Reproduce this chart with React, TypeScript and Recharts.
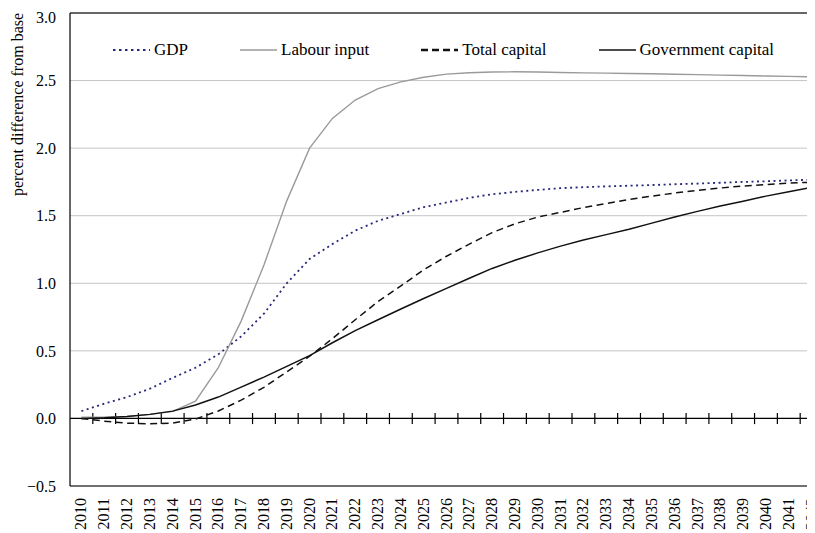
import React from 'react';
import { LineChart, Line, XAxis, YAxis, CartesianGrid, ReferenceLine } from 'recharts';

const years = [
  2010, 2011, 2012, 2013, 2014, 2015, 2016, 2017, 2018, 2019, 2020,
  2021, 2022, 2023, 2024, 2025, 2026, 2027, 2028, 2029, 2030, 2031,
  2032, 2033, 2034, 2035, 2036, 2037, 2038, 2039, 2040, 2041, 2042,
];

const gdp = [
  0.054, 0.109, 0.158, 0.22, 0.3, 0.375, 0.474, 0.607, 0.775, 1.0, 1.18,
  1.29, 1.39, 1.462, 1.513, 1.563, 1.598, 1.632, 1.659, 1.676, 1.691, 1.704,
  1.711, 1.717, 1.722, 1.727, 1.733, 1.738, 1.744, 1.75, 1.755, 1.761, 1.767,
];

const labourInput = [
  0.01, 0.01, 0.015, 0.03, 0.052, 0.128, 0.375, 0.72, 1.135, 1.61, 2.0,
  2.22, 2.356, 2.44, 2.49, 2.525, 2.548, 2.558, 2.563, 2.565, 2.563, 2.56,
  2.557, 2.555, 2.552, 2.55, 2.547, 2.544, 2.54, 2.537, 2.534, 2.531, 2.528,
];

const totalCapital = [
  0.0, -0.02, -0.035, -0.04, -0.035, -0.005, 0.055, 0.135, 0.23, 0.345, 0.46,
  0.59, 0.73, 0.865, 0.98, 1.1, 1.2, 1.29, 1.375, 1.44, 1.49, 1.525,
  1.56, 1.59, 1.62, 1.645, 1.668, 1.688, 1.705, 1.72, 1.731, 1.741, 1.748,
];

const governmentCapital = [
  0.0, 0.005, 0.015, 0.03, 0.054, 0.1, 0.158, 0.232, 0.306, 0.385, 0.465,
  0.56, 0.65, 0.73, 0.81, 0.887, 0.962, 1.037, 1.11, 1.17, 1.225, 1.275,
  1.32, 1.36, 1.4, 1.445, 1.49, 1.532, 1.572, 1.607, 1.645, 1.678, 1.71,
];

const yTicks = [-0.5, 0, 0.5, 1.0, 1.5, 2.0, 2.5, 3.0];
const yLabel = 'percent difference from base';

const seriesNames = ['GDP', 'Labour input', 'Total capital', 'Government capital'];

const FONT = '"Liberation Serif", "Times New Roman", Times, serif';

const series = [
  { key: 'gdp', name: seriesNames[0], color: '#28287a', width: 1.8, dash: '2 3.5', legendWidth: 2.2, legendDash: '2.5 3.5' },
  { key: 'labour', name: seriesNames[1], color: '#9a9a9a', width: 1.4, dash: undefined, legendWidth: 1.4, legendDash: undefined },
  { key: 'total', name: seriesNames[2], color: '#111111', width: 1.5, dash: '7 4.5', legendWidth: 2.4, legendDash: '7 4' },
  { key: 'gov', name: seriesNames[3], color: '#111111', width: 1.5, dash: undefined, legendWidth: 1.6, legendDash: undefined },
];

const data = years.map((year, i) => ({
  year,
  gdp: gdp[i],
  labour: labourInput[i],
  total: totalCapital[i],
  gov: governmentCapital[i],
}));

const boundaries = years.slice(0, -1).map((y) => y + 0.5);

const fmt = (v: number) => (v < 0 ? '\u2212' + Math.abs(v).toFixed(1) : v.toFixed(1));

const XTick = (props: any) => {
  const { x, y, payload } = props;
  return (
    <text
      transform={`translate(${x + 5},${y}) rotate(-90)`}
      textAnchor="end"
      fontSize={16}
      fontFamily={FONT}
      fill="#000"
    >
      {payload.value}
    </text>
  );
};

const YLabel = (props: any) => {
  const vb = props.viewBox || { x: 0, y: 0 };
  return (
    <text
      transform={`translate(${vb.x + 14.5},${vb.y + 91.5}) rotate(-90)`}
      textAnchor="middle"
      fontSize={16}
      fontFamily={FONT}
      fill="#000"
    >
      {yLabel}
    </text>
  );
};

export default function App() {
  return (
    <div style={{ position: 'relative', width: 807, height: 525, overflow: 'hidden', background: '#fff' }}>
      <LineChart
        width={815}
        height={525}
        data={data}
        margin={{ top: 5, right: 0, bottom: 0, left: 0 }}
      >
        <CartesianGrid horizontal vertical={false} stroke="#c4c4c4" strokeWidth={1} />
        <XAxis
          dataKey="year"
          type="number"
          domain={[2009.5, 2042.5]}
          ticks={years}
          interval={0}
          allowDataOverflow
          height={47}
          tickSize={6}
          tickMargin={6}
          tickLine={false}
          axisLine={{ stroke: '#000', strokeWidth: 1.2 }}
          tick={<XTick />}
        />
        <YAxis
          type="number"
          domain={[-0.5, 3]}
          ticks={yTicks}
          width={62}
          tickSize={6}
          tickMargin={8}
          tickLine={false}
          axisLine={{ stroke: '#000', strokeWidth: 1.2 }}
          tickFormatter={fmt}
          tick={{ fill: '#000', fontSize: 16, fontFamily: FONT }}
          label={(p: any) => <YLabel {...p} />}
        />
        <ReferenceLine y={3} stroke="#666" strokeWidth={2} />
        <ReferenceLine y={0} stroke="#000" strokeWidth={1.2} />
        {boundaries.map((b) => (
          <ReferenceLine
            key={b}
            segment={[{ x: b, y: -0.042 }, { x: b, y: 0.04 }]}
            stroke="#000"
            strokeWidth={1.2}
          />
        ))}
        {series.map((s) => (
          <Line
            key={s.key}
            type="linear"
            dataKey={s.key}
            name={s.name}
            stroke={s.color}
            strokeWidth={s.width}
            strokeDasharray={s.dash}
            dot={false}
            activeDot={false}
            isAnimationActive={false}
          />
        ))}
      </LineChart>
      <div
        style={{
          position: 'absolute',
          top: 32,
          left: 105,
          height: 20,
          display: 'flex',
          alignItems: 'center',
          gap: 52,
          fontFamily: FONT,
          fontSize: 17,
          color: '#000',
          whiteSpace: 'nowrap',
        }}
      >
        {series.map((s) => (
          <div key={s.key} style={{ display: 'flex', alignItems: 'center' }}>
            <svg width={37} height={10} style={{ marginRight: 4 }}>
              <line
                x1={0}
                y1={5}
                x2={37}
                y2={5}
                stroke={s.color}
                strokeWidth={s.legendWidth}
                strokeDasharray={s.legendDash}
              />
            </svg>
            <span>{s.name}</span>
          </div>
        ))}
      </div>
    </div>
  );
}
